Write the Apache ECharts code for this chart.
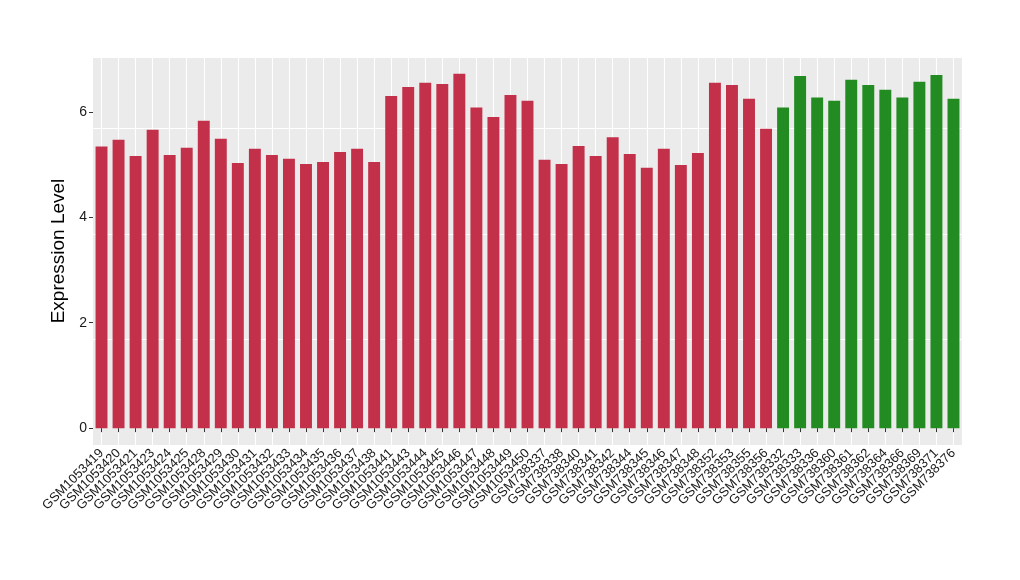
<!DOCTYPE html>
<html>
<head>
<meta charset="utf-8">
<script src="https://cdn.jsdelivr.net/npm/echarts@6/dist/echarts.min.js"></script>
<style>
html,body{margin:0;padding:0;background:#fff;}
#chart{width:1020px;height:580px;}
</style>
</head>
<body>
<div id="chart"></div>
<script>
const categories = [
  "GSM1053419","GSM1053420","GSM1053421","GSM1053423","GSM1053424","GSM1053425","GSM1053428","GSM1053429",
  "GSM1053430","GSM1053431","GSM1053432","GSM1053433","GSM1053434","GSM1053435","GSM1053436","GSM1053437",
  "GSM1053438","GSM1053441","GSM1053443","GSM1053444","GSM1053445","GSM1053446","GSM1053447","GSM1053448",
  "GSM1053449","GSM1053450","GSM738337","GSM738338","GSM738340","GSM738341","GSM738342","GSM738344",
  "GSM738345","GSM738346","GSM738347","GSM738348","GSM738352","GSM738353","GSM738355","GSM738356",
  "GSM738332","GSM738333","GSM738336","GSM738360","GSM738361","GSM738362","GSM738364","GSM738366",
  "GSM738369","GSM738371","GSM738376"
];
const values = [
  5.34,5.47,5.16,5.66,5.18,5.32,5.83,5.49,
  5.03,5.30,5.18,5.11,5.01,5.05,5.24,5.30,
  5.05,6.30,6.47,6.55,6.53,6.72,6.08,5.90,
  6.32,6.21,5.09,5.01,5.35,5.16,5.52,5.20,
  4.94,5.30,4.99,5.22,6.55,6.51,6.25,5.68,
  6.08,6.68,6.27,6.21,6.61,6.51,6.42,6.27,
  6.57,6.70,6.25
];
// group of each sample: 0 = first group (red), 1 = second group (green)
const groups = [
  0,0,0,0,0,0,0,0, 0,0,0,0,0,0,0,0, 0,0,0,0,0,0,0,0, 0,0,0,0,0,0,0,0, 0,0,0,0,0,0,0,0,
  1,1,1,1,1,1,1,1, 1,1,1
];
const groupColors = ["#C3304A", "#228B22"];
const yMin = -0.32, yMax = 7.04;
const yTicks = [0, 2, 4, 6];

const chart = echarts.init(document.getElementById('chart'), null, {renderer: 'canvas'});
const fontFamily = 'Liberation Sans, Arial, Helvetica, sans-serif';

chart.setOption({
  backgroundColor: '#ffffff',
  animation: false,
  grid: {
    left: 93, right: 58, top: 57, bottom: 135,
    show: true, backgroundColor: '#EBEBEB', borderWidth: 0
  },
  xAxis: [{
    type: 'category',
    data: categories,
    boundaryGap: true,
    axisLine: {show: false},
    axisTick: {show: true, alignWithLabel: true, interval: 0, length: 4, lineStyle: {color: '#333333', width: 1}},
    splitLine: {show: true, alignWithLabel: true, interval: 0, lineStyle: {color: '#ffffff', width: 1.1}},
    axisLabel: {
      interval: 0, rotate: 45, fontSize: 13, color: '#1a1a1a', fontFamily: fontFamily, margin: 6
    }
  }],
  yAxis: [{
    type: 'value',
    min: yMin, max: yMax, interval: 2,
    name: 'Expression Level',
    nameLocation: 'middle',
    nameGap: 22,
    nameTextStyle: {fontSize: 19, color: '#000000', fontFamily: fontFamily},
    axisLine: {show: false},
    axisTick: {show: true, length: 4, lineStyle: {color: '#333333', width: 1}, customValues: yTicks},
    axisLabel: {fontSize: 14, color: '#1a1a1a', fontFamily: fontFamily, margin: 6, customValues: yTicks},
    splitLine: {show: false}
  }, {
    // helper axis for major gridlines at even values
    type: 'value',
    min: yMin, max: yMax, interval: 2,
    position: 'left',
    axisLine: {show: false}, axisTick: {show: false}, axisLabel: {show: false},
    splitLine: {show: true, lineStyle: {color: '#ffffff', width: 1.1}}
  }, {
    // helper axis for minor gridlines at odd values (shifted by 1)
    type: 'value',
    min: yMin - 1, max: yMax - 1, interval: 2,
    position: 'left',
    axisLine: {show: false}, axisTick: {show: false}, axisLabel: {show: false},
    splitLine: {show: true, lineStyle: {color: '#ffffff', width: 0.55}}
  }],
  series: [{
    type: 'bar',
    xAxisIndex: 0, yAxisIndex: 0,
    barWidth: '70%',
    data: values.map((v, i) => ({value: v, itemStyle: {color: groupColors[groups[i]]}})),
    silent: true
  }]
});
</script>
</body>
</html>
